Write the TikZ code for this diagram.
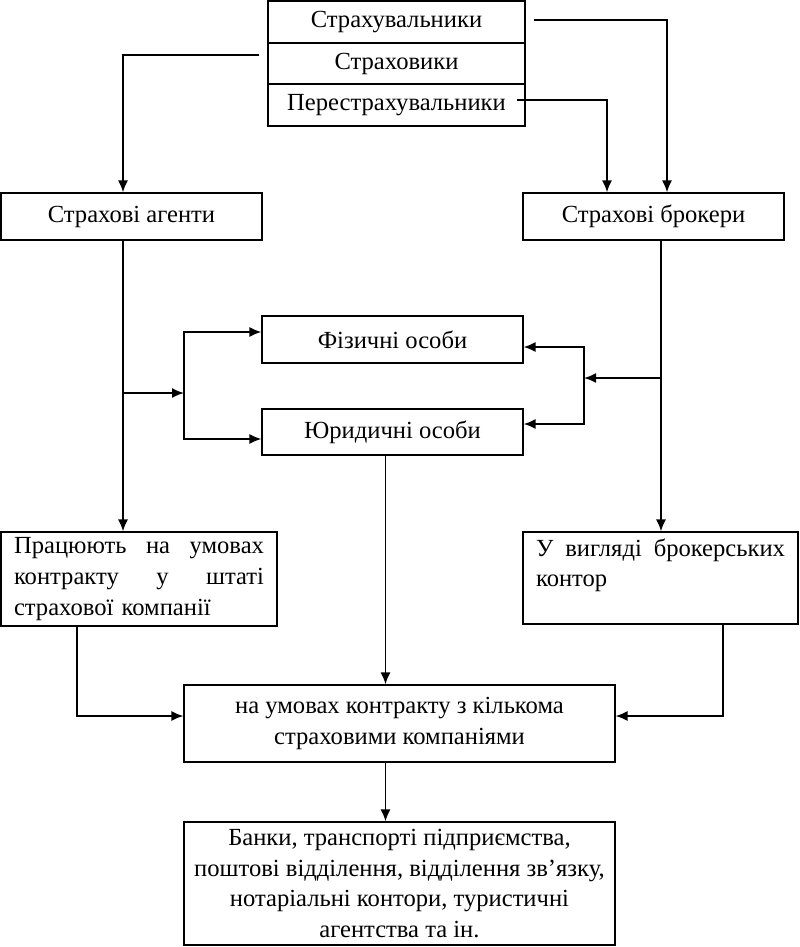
\documentclass[tikz,border=0pt]{standalone}
\usepackage{fontspec}
\setmainfont{Liberation Serif}
\usetikzlibrary{calc,arrows.meta}

\tikzset{>={Latex[length=0.24cm,width=0.2cm]}}
\tikzset{
  box/.style={draw,line width=0.65pt,inner sep=0pt,align=center,
    font=\fontsize{14}{17.5}\selectfont},
  link/.style={line width=1pt},
}
\newcommand{\fullline}[2]{\leavevmode\hbox to #1{#2}}

\begin{document}
\begin{tikzpicture}[x=0.02cm,y=-0.02cm]
  \useasboundingbox (0,0) rectangle (800,947);
  % top block
  \node[box,minimum width=5.14cm,minimum height=0.84cm] (top1) at (396.5,22) {Страхувальники};
  \node[box,minimum width=5.14cm,minimum height=0.82cm] (top2) at (396.5,63.5) {Страховики};
  \node[box,minimum width=5.14cm,minimum height=0.84cm] (top3) at (396.5,105) {Перестрахувальники};
  % agents and brokers
  \node[box,minimum width=5.22cm,minimum height=0.94cm] (ag)  at (131.5,216.5) {Страхові агенти};
  \node[box,minimum width=5.22cm,minimum height=0.94cm] (bro) at (653.5,216.5) {Страхові брокери};
  \node[box,minimum width=5.22cm,minimum height=0.94cm] (fiz) at (392.5,339.5) {Фізичні особи};
  \node[box,minimum width=5.22cm,minimum height=0.92cm] (yur) at (392.5,432) {Юридичні особи};
  \node[box,minimum width=5.52cm,minimum height=1.88cm,text width=5.0cm,align=left] (prac) at (139,579)
    {\fullline{5.0cm}{Працюють\hfill на\hfill умовах}\\\fullline{5.0cm}{контракту\hfill у\hfill штаті}\\страхової компанії};
  \node[box,minimum width=5.5cm,minimum height=1.84cm,text width=4.98cm,align=left] (kon) at (660.5,578)
    {\fullline{4.98cm}{У\hfill вигляді\hfill брокерських}\\контор\\\mbox{}};
  \node[box,minimum width=8.62cm,minimum height=1.54cm] (umov) at (399.5,723.5)
    {на умовах контракту з кількома\\страховими компаніями};
  \node[box,minimum width=8.62cm,minimum height=2.46cm] (bank) at (399.5,883.5)
    {Банки, транспорті підприємства,\\поштові відділення, відділення зв’язку,\\нотаріальні контори, туристичні\\агентства та ін.};

  % from the top block
  \draw[link,->] ($(top1.east)+(8,-2)$) -| ($(bro.north)+(13.5,0)$);
  \draw[link,->] ($(top3.east)+(-9,-5)$) -| ($(bro.north)+(-46.5,0)$);
  \draw[link,->] ($(top2.west)+(-8,-8.5)$) -| ($(ag.north)+(-8.5,0)$);

  % agents side
  \coordinate (aS) at ($(ag.south)+(-8.5,0)$);
  \draw[link,->] (aS) -- (aS |- prac.north);
  \coordinate (jl) at (123,393);
  \coordinate (bl) at (184,393);
  \coordinate (fl) at (184,332);
  \coordinate (yl) at (184,439);
  \draw[link,->] (jl) -- (bl);
  \draw[link,<->] (fl -| fiz.west) -- (fl) -- (yl) -- (yl -| yur.west);

  % brokers side
  \coordinate (bS) at ($(bro.south)+(7.5,0)$);
  \draw[link,->] (bS) -- (bS |- kon.north);
  \coordinate (jr) at (661,378);
  \coordinate (br) at (584,378);
  \coordinate (fr) at (584,347);
  \coordinate (yr) at (584,424);
  \draw[link,->] (jr) -- (br);
  \draw[link,<->] (fr -| fiz.east) -- (fr) -- (yr) -- (yr -| yur.east);

  % down to the contract box
  \coordinate (yS) at ($(yur.south)+(-7,0)$);
  \draw[link,->] (yS) -- (yS |- umov.north);
  \coordinate (pS) at ($(prac.south)+(-62,0)$);
  \coordinate (uL) at ($(umov.west)+(0,-7.5)$);
  \draw[link,->] (pS) |- (uL);
  \coordinate (kS) at ($(kon.south)+(62.5,0)$);
  \coordinate (uR) at ($(umov.east)+(0,-7.5)$);
  \draw[link,->] (kS) |- (uR);
  \draw[link,->] (yS |- umov.south) -- (yS |- bank.north);
\end{tikzpicture}
\end{document}
